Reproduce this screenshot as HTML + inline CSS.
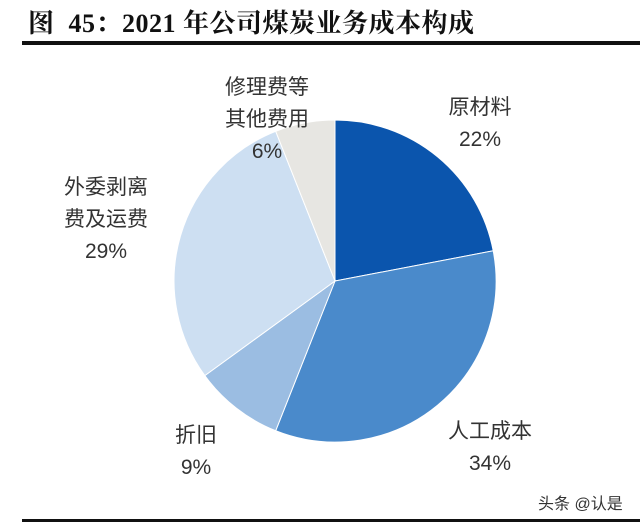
<!DOCTYPE html>
<html><head><meta charset="utf-8"><style>
html,body{margin:0;padding:0;background:#fff;}
body{width:640px;height:528px;position:relative;overflow:hidden;font-family:"Liberation Sans","Noto Sans CJK SC",sans-serif;}
.t{position:absolute;left:28px;top:3px;font-family:"Liberation Serif","Noto Serif CJK SC",serif;font-weight:bold;font-size:26px;color:#111;letter-spacing:0.5px;}
.l{position:absolute;color:#333;font-size:21px;text-align:center;line-height:32px;transform:translateX(-50%);white-space:nowrap;}
</style></head><body>
<div class="t">图&nbsp;&nbsp;45：2021 年公司煤炭业务成本构成</div>
<div style="position:absolute;left:22px;top:41px;width:618px;height:4px;background:#111;"></div>
<svg width="640" height="528" style="position:absolute;left:0;top:0">
<g stroke="#fff" stroke-width="1">
<path d="M335,281 L335,120 A161,161 0 0 1 493.2,250.8 Z" fill="#0b55ad"/>
<path d="M335,281 L493.2,250.8 A161,161 0 0 1 275.7,430.7 Z" fill="#4a8acb"/>
<path d="M335,281 L275.7,430.7 A161,161 0 0 1 204.8,375.6 Z" fill="#9bbde2"/>
<path d="M335,281 L204.8,375.6 A161,161 0 0 1 275.7,131.3 Z" fill="#cddff2"/>
<path d="M335,281 L275.7,131.3 A161,161 0 0 1 335,120 Z" fill="#e7e6e2"/>
</g>
</svg>
<div class="l" style="left:267px;top:72px">修理费等<br>其他费用<br>6%</div>
<div class="l" style="left:480px;top:92px">原材料<br>22%</div>
<div class="l" style="left:106px;top:172px">外委剥离<br>费及运费<br>29%</div>
<div class="l" style="left:196px;top:420px">折旧<br>9%</div>
<div class="l" style="left:490px;top:416px">人工成本<br>34%</div>
<div style="position:absolute;left:538px;top:490px;font-size:16px;color:#333;">头条 @认是</div>
<div style="position:absolute;left:22px;top:519px;width:618px;height:3px;background:#111;"></div>
</body></html>
